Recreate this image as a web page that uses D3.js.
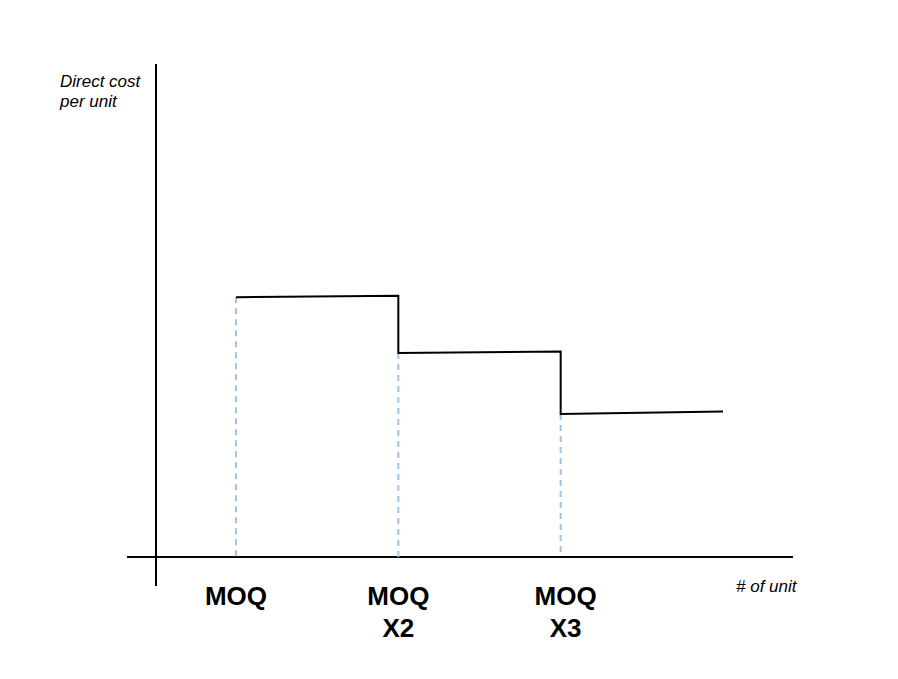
<!DOCTYPE html>
<html>
<head>
<meta charset="utf-8">
<script src="https://cdn.jsdelivr.net/npm/d3@7"></script>
<style>
  body { margin: 0; background: #fff; }
  text { font-family: "Liberation Sans", Arial, Helvetica, sans-serif; }
</style>
</head>
<body>
<div id="chart"></div>
<script>
// step breakpoints (multiples of MOQ) and cost at start / end of each step
var steps = [1, 2, 3];
var stepEnd = 4;
var costStart = [5.27, 4.14, 2.90];
var costEnd = [5.30, 4.17, 2.95];
var tickLabels = [['MOQ'], ['MOQ', 'X2'], ['MOQ', 'X3']];
var yTitle = ['Direct cost', 'per unit'];
var xTitle = '# of unit';

var width = 898,
    height = 679;

var svg = d3.select('#chart')
  .append('svg')
    .attr('width', width)
    .attr('height', height);

var x = d3.scaleLinear().domain([1, 4]).range([236, 723]);
var y = d3.scaleLinear().domain([0, 10]).range([557, 64]);

// axes
svg.append('line')
  .attr('x1', 127).attr('x2', 793)
  .attr('y1', y(0)).attr('y2', y(0))
  .attr('stroke', '#000').attr('stroke-width', 2);

svg.append('line')
  .attr('x1', 156).attr('x2', 156)
  .attr('y1', y(10)).attr('y2', y(0) + 29)
  .attr('stroke', '#000').attr('stroke-width', 2);

// dashed guides from each step down to the x axis
svg.selectAll('line.guide')
  .data(steps)
  .enter()
    .append('line')
    .attr('class', 'guide')
    .attr('x1', function(d) { return x(d); })
    .attr('x2', function(d) { return x(d); })
    .attr('y1', function(d, i) { return y(costStart[i]); })
    .attr('y2', y(0))
    .attr('stroke', '#9dc3e6')
    .attr('stroke-width', 2)
    .attr('stroke-dasharray', '6,5');

// step line
var pts = [];
steps.forEach(function(s, i) {
  pts.push([x(s), y(costStart[i])]);
  var next = i < steps.length - 1 ? steps[i + 1] : stepEnd;
  pts.push([x(next), y(costEnd[i])]);
});

svg.append('path')
  .attr('d', d3.line()(pts))
  .attr('fill', 'none')
  .attr('stroke', '#000')
  .attr('stroke-width', 2);

// tick labels
var tl = svg.selectAll('text.tick')
  .data(steps)
  .enter()
    .append('text')
    .attr('class', 'tick')
    .attr('text-anchor', 'middle')
    .attr('font-weight', 'bold')
    .attr('font-size', 26);

tl.selectAll('tspan')
  .data(function(d, i) {
    return tickLabels[i].map(function(t) { return { t: t, x: x(d) + (i === 2 ? 5 : 0) }; });
  })
  .enter()
    .append('tspan')
    .attr('x', function(d) { return d.x; })
    .attr('y', function(d, j) { return 605 + j * 32; })
    .text(function(d) { return d.t; });

// axis titles
svg.append('text')
  .attr('font-style', 'italic')
  .attr('font-size', 17)
  .selectAll('tspan')
  .data(yTitle)
  .enter()
    .append('tspan')
    .attr('x', 60)
    .attr('y', function(d, i) { return 87 + i * 20; })
    .text(function(d) { return d; });

svg.append('text')
  .attr('font-style', 'italic')
  .attr('font-size', 17)
  .attr('x', 736)
  .attr('y', 592)
  .text(xTitle);
</script>
</body>
</html>
